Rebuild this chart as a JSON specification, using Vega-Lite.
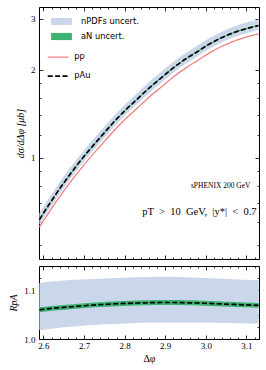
{
  "$schema": "https://vega.github.io/schema/vega-lite/v6.json",
  "padding": {"left": 8, "top": 6, "right": 4, "bottom": 4},
  "spacing": 5,
  "config": {
    "view": {"stroke": "black", "strokeWidth": 1},
    "axis": {"grid": false, "domain": false, "tickColor": "black", "tickWidth": 0.8, "labelFont": "Liberation Serif", "labelFontSize": 9, "labelColor": "black", "titleFont": "Liberation Serif", "titleColor": "black", "titleFontWeight": "normal", "titleFontSize": 10},
    "legend": {"labelFont": "DejaVu Sans", "labelFontSize": 8.3, "labelColor": "black", "padding": 0, "labelOffset": 12, "symbolSize": 169}
  },
  "datasets": {
    "top": [
      {"x": 2.59, "pAu": 0.613, "pp": 0.578, "nlo": 0.589, "nhi": 0.645, "alo": 0.610, "ahi": 0.616},
      {"x": 2.62, "pAu": 0.712, "pp": 0.670, "nlo": 0.684, "nhi": 0.749, "alo": 0.709, "ahi": 0.715},
      {"x": 2.65, "pAu": 0.819, "pp": 0.769, "nlo": 0.788, "nhi": 0.861, "alo": 0.815, "ahi": 0.823},
      {"x": 2.68, "pAu": 0.932, "pp": 0.873, "nlo": 0.896, "nhi": 0.979, "alo": 0.928, "ahi": 0.936},
      {"x": 2.71, "pAu": 1.051, "pp": 0.983, "nlo": 1.011, "nhi": 1.104, "alo": 1.046, "ahi": 1.056},
      {"x": 2.74, "pAu": 1.174, "pp": 1.097, "nlo": 1.130, "nhi": 1.233, "alo": 1.168, "ahi": 1.180},
      {"x": 2.77, "pAu": 1.310, "pp": 1.222, "nlo": 1.260, "nhi": 1.375, "alo": 1.304, "ahi": 1.316},
      {"x": 2.80, "pAu": 1.448, "pp": 1.350, "nlo": 1.393, "nhi": 1.520, "alo": 1.441, "ahi": 1.455},
      {"x": 2.83, "pAu": 1.584, "pp": 1.475, "nlo": 1.524, "nhi": 1.662, "alo": 1.577, "ahi": 1.591},
      {"x": 2.86, "pAu": 1.733, "pp": 1.613, "nlo": 1.668, "nhi": 1.819, "alo": 1.725, "ahi": 1.741},
      {"x": 2.89, "pAu": 1.878, "pp": 1.747, "nlo": 1.806, "nhi": 1.971, "alo": 1.869, "ahi": 1.887},
      {"x": 2.92, "pAu": 2.034, "pp": 1.892, "nlo": 1.956, "nhi": 2.134, "alo": 2.024, "ahi": 2.044},
      {"x": 2.95, "pAu": 2.181, "pp": 2.030, "nlo": 2.099, "nhi": 2.288, "alo": 2.171, "ahi": 2.191},
      {"x": 2.98, "pAu": 2.316, "pp": 2.156, "nlo": 2.229, "nhi": 2.428, "alo": 2.305, "ahi": 2.327},
      {"x": 3.01, "pAu": 2.460, "pp": 2.293, "nlo": 2.371, "nhi": 2.580, "alo": 2.448, "ahi": 2.472},
      {"x": 3.04, "pAu": 2.586, "pp": 2.412, "nlo": 2.492, "nhi": 2.711, "alo": 2.574, "ahi": 2.598},
      {"x": 3.07, "pAu": 2.691, "pp": 2.513, "nlo": 2.596, "nhi": 2.822, "alo": 2.678, "ahi": 2.704},
      {"x": 3.10, "pAu": 2.773, "pp": 2.592, "nlo": 2.675, "nhi": 2.908, "alo": 2.760, "ahi": 2.786},
      {"x": 3.13, "pAu": 2.843, "pp": 2.659, "nlo": 2.744, "nhi": 2.981, "alo": 2.830, "ahi": 2.856}
    ],
    "bot": [
      {"x": 2.59, "r": 1.060, "rlo": 1.018, "rhi": 1.115, "alo": 1.055, "ahi": 1.065},
      {"x": 2.62, "r": 1.063, "rlo": 1.021, "rhi": 1.118, "alo": 1.058, "ahi": 1.068},
      {"x": 2.65, "r": 1.065, "rlo": 1.024, "rhi": 1.120, "alo": 1.060, "ahi": 1.070},
      {"x": 2.68, "r": 1.067, "rlo": 1.026, "rhi": 1.1215, "alo": 1.062, "ahi": 1.072},
      {"x": 2.71, "r": 1.069, "rlo": 1.028, "rhi": 1.123, "alo": 1.064, "ahi": 1.074},
      {"x": 2.74, "r": 1.0705, "rlo": 1.030, "rhi": 1.124, "alo": 1.0655, "ahi": 1.0755},
      {"x": 2.77, "r": 1.072, "rlo": 1.031, "rhi": 1.125, "alo": 1.067, "ahi": 1.077},
      {"x": 2.80, "r": 1.073, "rlo": 1.032, "rhi": 1.126, "alo": 1.068, "ahi": 1.078},
      {"x": 2.83, "r": 1.074, "rlo": 1.033, "rhi": 1.127, "alo": 1.069, "ahi": 1.079},
      {"x": 2.86, "r": 1.0745, "rlo": 1.034, "rhi": 1.1275, "alo": 1.0695, "ahi": 1.0795},
      {"x": 2.89, "r": 1.075, "rlo": 1.034, "rhi": 1.128, "alo": 1.070, "ahi": 1.080},
      {"x": 2.92, "r": 1.075, "rlo": 1.034, "rhi": 1.128, "alo": 1.070, "ahi": 1.080},
      {"x": 2.95, "r": 1.0745, "rlo": 1.034, "rhi": 1.127, "alo": 1.0695, "ahi": 1.0795},
      {"x": 2.98, "r": 1.074, "rlo": 1.034, "rhi": 1.126, "alo": 1.069, "ahi": 1.079},
      {"x": 3.01, "r": 1.073, "rlo": 1.034, "rhi": 1.125, "alo": 1.068, "ahi": 1.078},
      {"x": 3.04, "r": 1.072, "rlo": 1.033, "rhi": 1.124, "alo": 1.067, "ahi": 1.077},
      {"x": 3.07, "r": 1.071, "rlo": 1.033, "rhi": 1.123, "alo": 1.066, "ahi": 1.076},
      {"x": 3.10, "r": 1.070, "rlo": 1.032, "rhi": 1.122, "alo": 1.065, "ahi": 1.075},
      {"x": 3.13, "r": 1.069, "rlo": 1.032, "rhi": 1.121, "alo": 1.064, "ahi": 1.074}
    ]
  },
  "vconcat": [
    {
      "width": 220,
      "height": 252,
      "layer": [
        {
          "data": {"name": "top"},
          "mark": {"type": "area", "interpolate": "monotone", "opacity": 1},
          "encoding": {
            "x": {"field": "x", "type": "quantitative", "scale": {"domain": [2.589, 3.131], "nice": false, "zero": false},
                  "axis": {"orient": "bottom", "values": [2.6, 2.7, 2.8, 2.9, 3.0, 3.1], "labels": false, "tickSize": -4, "title": null}},
            "y": {"field": "nlo", "type": "quantitative", "scale": {"type": "log", "domain": [0.449, 3.29], "nice": false},
                  "axis": {"orient": "left", "values": [1, 2, 3], "format": "d", "tickSize": -4, "labelPadding": 8, "title": "dσ/dΔφ [μb]", "titleFontStyle": "italic", "titlePadding": 5}},
            "y2": {"field": "nhi"},
            "fill": {"datum": "nPDFs uncert.", "type": "nominal",
              "scale": {"domain": ["nPDFs uncert.", "aN uncert."], "range": ["#cad6ea", "#3cb371"]},
              "legend": {
                "orient": "none", "legendX": 15, "legendY": 7, "title": null,
                "symbolType": "M-1.6,-0.55L1.6,-0.55L1.6,0.55L-1.6,0.55Z",
                "symbolOpacity": 1, "rowPadding": 3
              }}
          }
        },
        {
          "data": {"name": "top"},
          "mark": {"type": "area", "interpolate": "monotone", "opacity": 1},
          "encoding": {
            "x": {"field": "x", "type": "quantitative",
                  "axis": {"orient": "bottom", "values": [2.6, 2.62, 2.64, 2.66, 2.68, 2.72, 2.74, 2.76, 2.78, 2.82, 2.84, 2.86, 2.88, 2.92, 2.94, 2.96, 2.98, 3.02, 3.04, 3.06, 3.08, 3.12], "labels": false, "tickSize": -2, "title": null}},
            "y": {"field": "alo", "type": "quantitative",
                  "axis": {"orient": "left", "values": [0.5, 0.6, 0.7, 0.8, 0.9, 1.2, 1.4, 1.6, 1.8], "labels": false, "tickSize": -2, "title": null}},
            "y2": {"field": "ahi"},
            "fill": {"datum": "aN uncert.", "type": "nominal"}
          }
        },
        {
          "data": {"name": "top"},
          "mark": {"type": "line", "interpolate": "monotone", "strokeWidth": 1.3},
          "encoding": {
            "x": {"field": "x", "type": "quantitative",
                  "axis": {"orient": "top", "values": [2.6, 2.7, 2.8, 2.9, 3.0, 3.1], "labels": false, "tickSize": -4, "title": null}},
            "y": {"field": "pp", "type": "quantitative",
                  "axis": {"orient": "right", "values": [1, 2, 3], "labels": false, "tickSize": -4, "title": null}},
            "stroke": {"datum": "pp", "type": "nominal",
              "scale": {"domain": ["pp", "pAu"], "range": ["#f08080", "#000000"]},
              "legend": {
                "orient": "none", "legendX": 15, "legendY": 46, "title": null,
                "symbolType": "M-1.6,0L1.6,0", "rowPadding": 10,
                "symbolDash": {"expr": "datum.value == 'pAu' ? [5, 2.4] : [1, 0]"},
                "symbolStrokeWidth": {"expr": "datum.value == 'pAu' ? 1.7 : 1.3"}
              }}
          }
        },
        {
          "data": {"name": "top"},
          "mark": {"type": "line", "interpolate": "monotone", "strokeWidth": 1.7, "strokeDash": [5, 2.4]},
          "encoding": {
            "x": {"field": "x", "type": "quantitative",
                  "axis": {"orient": "top", "values": [2.6, 2.62, 2.64, 2.66, 2.68, 2.72, 2.74, 2.76, 2.78, 2.82, 2.84, 2.86, 2.88, 2.92, 2.94, 2.96, 2.98, 3.02, 3.04, 3.06, 3.08, 3.12], "labels": false, "tickSize": -2, "title": null}},
            "y": {"field": "pAu", "type": "quantitative",
                  "axis": {"orient": "right", "values": [0.5, 0.6, 0.7, 0.8, 0.9, 1.2, 1.4, 1.6, 1.8], "labels": false, "tickSize": -2, "title": null}},
            "stroke": {"datum": "pAu", "type": "nominal"}
          }
        },
        {
          "data": {"values": [{}]},
          "mark": {"type": "text", "text": "sPHENIX 200 GeV", "align": "right", "baseline": "middle", "font": "Liberation Serif", "fontSize": 7.5, "color": "black"},
          "encoding": {
            "x": {"datum": 3.11, "type": "quantitative", "axis": null},
            "y": {"datum": 0.80, "type": "quantitative", "axis": null}
          }
        },
        {
          "data": {"values": [{}]},
          "mark": {"type": "text", "text": "pT\u2002>\u200210\u2002GeV,\u2002|y*|\u2002<\u20020.7", "align": "right", "baseline": "middle", "font": "Liberation Serif", "fontSize": 10.5, "color": "black"},
          "encoding": {
            "x": {"datum": 3.125, "type": "quantitative", "axis": null},
            "y": {"datum": 0.649, "type": "quantitative", "axis": null}
          }
        }
      ],
      "resolve": {"axis": {"x": "independent", "y": "independent"}}
    },
    {
      "width": 220,
      "height": 73,
      "data": {"name": "bot"},
      "layer": [
        {
          "mark": {"type": "area", "interpolate": "monotone", "opacity": 1, "color": "#cad6ea"},
          "encoding": {
            "x": {"field": "x", "type": "quantitative", "scale": {"domain": [2.589, 3.131], "nice": false, "zero": false},
                  "axis": {"orient": "bottom", "values": [2.6, 2.7, 2.8, 2.9, 3.0, 3.1], "format": ".1f", "tickSize": -4, "labelPadding": 6, "title": "Δφ", "titlePadding": 3}},
            "y": {"field": "rlo", "type": "quantitative", "scale": {"domain": [1.0, 1.15], "nice": false, "zero": false},
                  "axis": {"orient": "left", "values": [1.0, 1.1], "format": ".1f", "tickSize": -4, "labelPadding": 8, "title": "RpA", "titleFontStyle": "italic", "titlePadding": 5}},
            "y2": {"field": "rhi"}
          }
        },
        {
          "mark": {"type": "area", "interpolate": "monotone", "opacity": 1, "color": "#3cb371"},
          "encoding": {
            "x": {"field": "x", "type": "quantitative",
                  "axis": {"orient": "bottom", "values": [2.6, 2.62, 2.64, 2.66, 2.68, 2.72, 2.74, 2.76, 2.78, 2.82, 2.84, 2.86, 2.88, 2.92, 2.94, 2.96, 2.98, 3.02, 3.04, 3.06, 3.08, 3.12], "labels": false, "tickSize": -2, "title": null}},
            "y": {"field": "alo", "type": "quantitative",
                  "axis": {"orient": "left", "values": [1.025, 1.05, 1.075, 1.125], "labels": false, "tickSize": -2, "title": null}},
            "y2": {"field": "ahi"}
          }
        },
        {
          "mark": {"type": "line", "interpolate": "monotone", "strokeWidth": 1.7, "strokeDash": [5, 2.4], "color": "black"},
          "encoding": {
            "x": {"field": "x", "type": "quantitative",
                  "axis": {"orient": "top", "values": [2.6, 2.7, 2.8, 2.9, 3.0, 3.1], "labels": false, "tickSize": -4, "title": null}},
            "y": {"field": "r", "type": "quantitative",
                  "axis": {"orient": "right", "values": [1.0, 1.1], "labels": false, "tickSize": -4, "title": null}}
          }
        },
        {
          "mark": {"type": "line", "strokeOpacity": 0, "color": "black"},
          "encoding": {
            "x": {"field": "x", "type": "quantitative",
                  "axis": {"orient": "top", "values": [2.6, 2.62, 2.64, 2.66, 2.68, 2.72, 2.74, 2.76, 2.78, 2.82, 2.84, 2.86, 2.88, 2.92, 2.94, 2.96, 2.98, 3.02, 3.04, 3.06, 3.08, 3.12], "labels": false, "tickSize": -2, "title": null}},
            "y": {"field": "r", "type": "quantitative",
                  "axis": {"orient": "right", "values": [1.025, 1.05, 1.075, 1.125], "labels": false, "tickSize": -2, "title": null}}
          }
        }
      ],
      "resolve": {"axis": {"x": "independent", "y": "independent"}}
    }
  ]
}
